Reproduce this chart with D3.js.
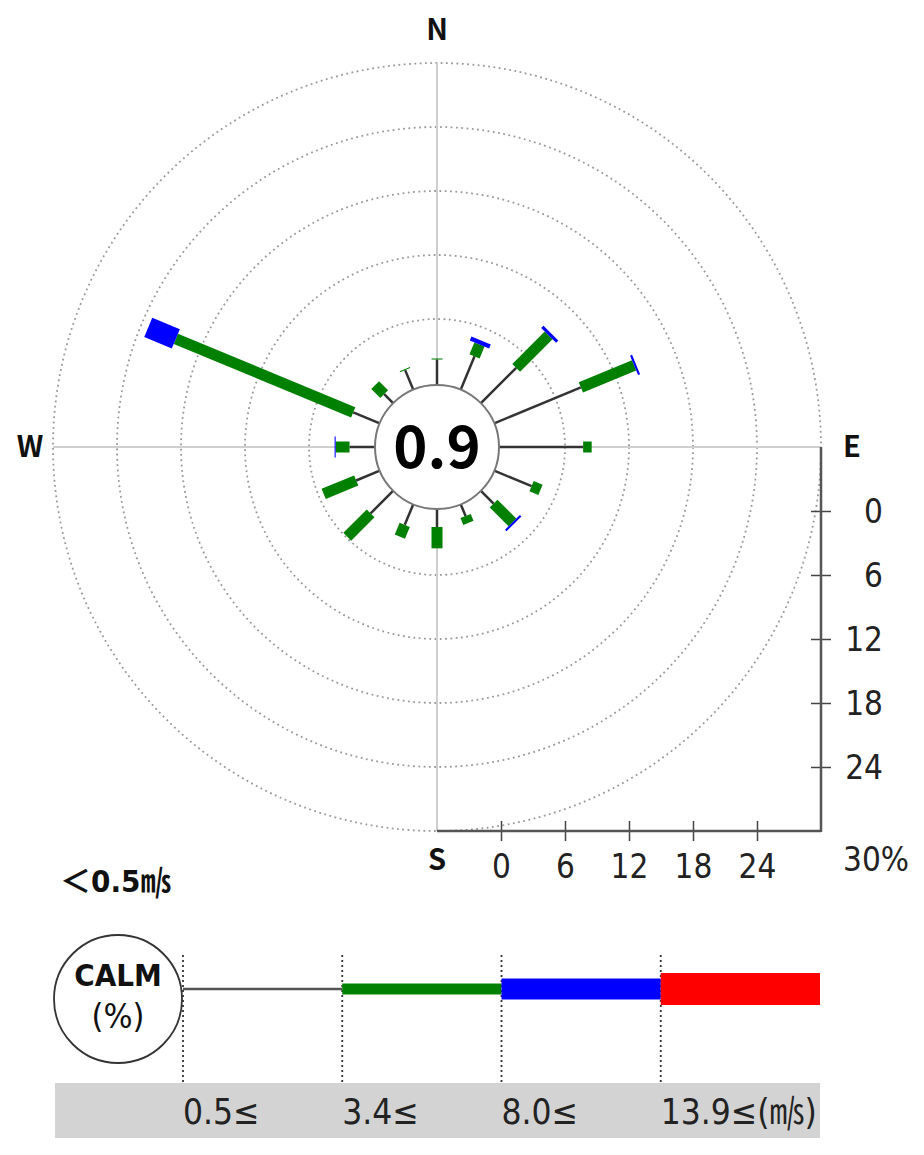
<!DOCTYPE html>
<html>
<head>
<meta charset="utf-8">
<script src="https://cdn.jsdelivr.net/npm/d3@7"></script>
<style>
  html, body { margin: 0; padding: 0; background: #fff; }
  svg { display: block; }
</style>
</head>
<body>
<svg id="chart" width="924" height="1155"></svg>
<script>
// ---- data ----
const directions = ["N","NNE","NE","ENE","E","ESE","SE","SSE","S","SSW","SW","WSW","W","WNW","NW","NNW"];
// frequency (%) per speed class and direction
const class1 = [2.2,3.2,4.5,8.6,7.7,3.6,1.5,1.0,1.5,1.9,2.8,2.2,2.2,2.5,1.0,1.8]; // 0.5–3.4 m/s
const class2 = [0.1,1.2,4.3,5.4,0.8,0.9,2.5,0.7,2.0,1.2,3.1,3.3,1.3,18.0,1.2,0.1]; // 3.4–8.0
const class3 = [0,0.4,0.3,0.2,0,0,0.2,0,0,0,0,0,0.1,2.8,0,0];                    // 8.0–13.9
const class4 = [0,0,0,0,0,0,0,0,0,0,0,0,0,0,0,0];                                // >=13.9
const calmValue = 0.9;
const axisTicks = [0, 6, 12, 18, 24];
const axisMax = 30;
const gridValues = [6, 12, 18, 24, 30];
const classLabels = ["0.5≤", "3.4≤", "8.0≤", "13.9≤(㎧)"];
const classColors = ["#333", "#008000", "#0000ff", "#ff0000"];
const classWidths = [2.5, 11, 21, 32];

// ---- layout ----
const svg = d3.select("#chart");
const cx = 437, cy = 447;
const r0 = 64, R = 384;
const rScale = d3.scaleLinear().domain([0, axisMax]).range([r0, R]);
const angle = d3.scalePoint().domain(directions).range([0, 360 - 22.5]);
const numFont = "'DejaVu Sans Condensed', 'Noto Sans CJK JP', sans-serif";
const boldFont = "'Noto Sans CJK JP', 'DejaVu Sans', sans-serif";

// grid circles
svg.append("g").selectAll("circle").data(gridValues).join("circle")
  .attr("cx", cx).attr("cy", cy).attr("r", d => rScale(d))
  .attr("fill", "none").attr("stroke", "#999").attr("stroke-width", 1.8)
  .attr("stroke-dasharray", "1.8,3.5");

// cross lines
svg.append("line").attr("x1", cx - R).attr("x2", cx + R).attr("y1", cy).attr("y2", cy)
  .attr("stroke", "#cfcfcf").attr("stroke-width", 2);
svg.append("line").attr("x1", cx).attr("x2", cx).attr("y1", cy - R).attr("y2", cy + R)
  .attr("stroke", "#cfcfcf").attr("stroke-width", 2);

// axes
const xAxisScale = d3.scaleLinear().domain([0, axisMax]).range([cx + r0, cx + R]);
const yAxisScale = d3.scaleLinear().domain([0, axisMax]).range([cy + r0, cy + R]);

const gx = svg.append("g").attr("transform", `translate(0,${cy + R})`)
  .call(d3.axisBottom(xAxisScale).tickValues(axisTicks).tickSize(10).tickPadding(14));
gx.select(".domain").remove();
gx.selectAll(".tick line").attr("y1", -10).attr("y2", 10).attr("stroke", "#444").attr("stroke-width", 1.5);
gx.selectAll(".tick text").attr("font-family", numFont).attr("font-size", 33).attr("fill", "#222");
svg.append("line").attr("x1", cx).attr("x2", cx + R).attr("y1", cy + R).attr("y2", cy + R)
  .attr("stroke", "#555").attr("stroke-width", 2.5);

const gy = svg.append("g").attr("transform", `translate(${cx + R},0)`)
  .call(d3.axisRight(yAxisScale).tickValues(axisTicks).tickSize(10));
gy.select(".domain").remove();
gy.selectAll(".tick line").attr("x1", -10).attr("x2", 10).attr("stroke", "#444").attr("stroke-width", 1.5);
gy.selectAll(".tick text").attr("x", 62).attr("text-anchor", "end").attr("dy", "0.35em")
  .attr("font-family", numFont).attr("font-size", 33).attr("fill", "#222");
svg.append("line").attr("x1", cx + R).attr("x2", cx + R).attr("y1", cy).attr("y2", cy + R + 1)
  .attr("stroke", "#555").attr("stroke-width", 2.5);

svg.append("text").attr("x", cx + R + 22).attr("y", cy + R + 40)
  .attr("font-family", numFont).attr("font-size", 33).attr("fill", "#222").text(axisMax + "%");

// compass labels
const compass = [
  {t: "N", x: cx, y: cy - R - 33},
  {t: "S", x: cx, y: cy + R + 29},
  {t: "E", x: cx + R + 31, y: cy},
  {t: "W", x: cx - R - 23, y: cy}
];
svg.append("g").selectAll("text").data(compass).join("text")
  .attr("x", d => d.x).attr("y", d => d.y).attr("dy", "0.36em")
  .attr("text-anchor", "middle").attr("font-family", boldFont).attr("font-weight", "bold")
  .attr("font-size", 29).attr("fill", "#111").text(d => d.t);

// rose bars
const classes = [class1, class2, class3, class4];
const segs = [];
directions.forEach((dir, i) => {
  let cum = 0;
  classes.forEach((cl, k) => {
    const v = cl[i];
    if (v > 0) segs.push({dir, k, start: cum, end: cum + v});
    cum += v;
  });
});
svg.append("g").selectAll("rect").data(segs).join("rect")
  .attr("transform", d => `translate(${cx},${cy}) rotate(${angle(d.dir)})`)
  .attr("x", d => -classWidths[d.k] / 2)
  .attr("y", d => -rScale(d.end))
  .attr("width", d => classWidths[d.k])
  .attr("height", d => rScale(d.end) - (d.k === 0 ? r0 - 4 : rScale(d.start)))
  .attr("fill", d => classColors[d.k]);

// calm circle
svg.append("circle").attr("cx", cx).attr("cy", cy).attr("r", r0 - 2)
  .attr("fill", "#fff").attr("stroke", "#777").attr("stroke-width", 2);
svg.append("text").attr("x", cx).attr("y", cy).attr("dy", "0.36em").attr("text-anchor", "middle")
  .attr("font-family", boldFont).attr("font-weight", "bold").attr("font-size", 58).attr("fill", "#000")
  .text(calmValue.toFixed(1));

// ---- legend ----
const legX = d3.scaleLinear().domain([0, 4]).range([183, 820]);
const legY = 989;

svg.append("text").attr("x", 60).attr("y", 892)
  .attr("font-family", numFont).attr("font-weight", "bold").attr("font-size", 31).attr("fill", "#111").text("＜0.5㎧");

svg.append("rect").attr("x", 55).attr("y", 1083).attr("width", legX(4) - 55).attr("height", 55)
  .attr("fill", "#d3d3d3");

svg.append("g").selectAll("line").data([0, 1, 2, 3]).join("line")
  .attr("x1", d => legX(d)).attr("x2", d => legX(d)).attr("y1", 955).attr("y2", 1082)
  .attr("stroke", "#333").attr("stroke-width", 1.8).attr("stroke-dasharray", "2,3");

svg.append("g").selectAll("rect").data([0, 1, 2, 3]).join("rect")
  .attr("x", d => legX(d)).attr("width", d => legX(d + 1) - legX(d))
  .attr("y", d => legY - classWidths[d] / 2).attr("height", d => classWidths[d])
  .attr("fill", d => d === 0 ? "#555" : classColors[d]);

svg.append("g").selectAll("text").data(classLabels).join("text")
  .attr("x", (d, i) => legX(i)).attr("y", 1124)
  .attr("font-family", numFont).attr("font-size", 35).attr("fill", "#222").text(d => d);

svg.append("circle").attr("cx", 118).attr("cy", 999).attr("r", 64)
  .attr("fill", "#fff").attr("stroke", "#333").attr("stroke-width", 1.8);
svg.append("text").attr("x", 118).attr("y", 986).attr("text-anchor", "middle")
  .attr("font-family", numFont).attr("font-weight", "bold").attr("font-size", 31).attr("fill", "#111").text("CALM");
svg.append("text").attr("x", 118).attr("y", 1028).attr("text-anchor", "middle")
  .attr("font-family", numFont).attr("font-size", 34).attr("fill", "#111").text("(%)");
</script>
</body>
</html>
